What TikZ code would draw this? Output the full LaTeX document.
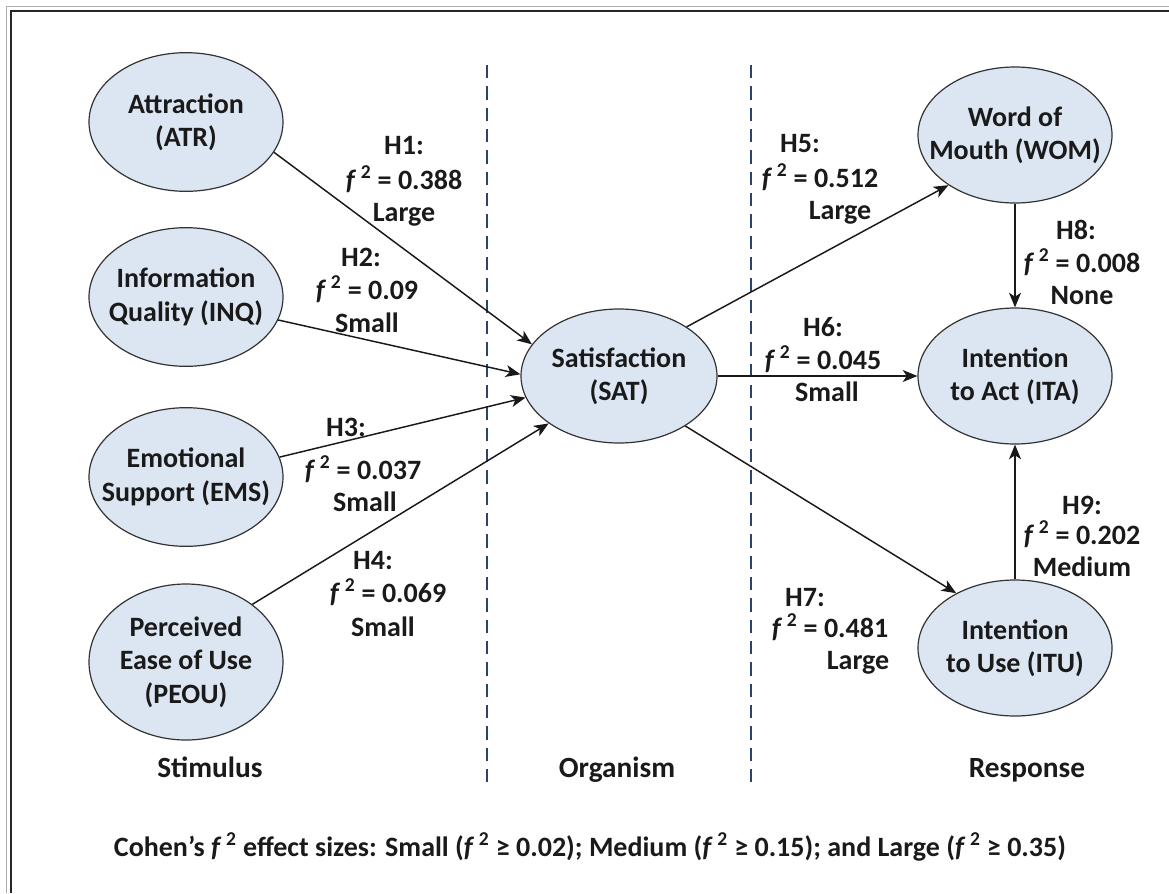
\documentclass[tikz,border=0pt]{standalone}
\usepackage{fontspec}
\setmainfont{Carlito}
\usetikzlibrary{arrows.meta,shapes.geometric}
\definecolor{ellfill}{HTML}{DCE6F2}
\definecolor{dashcol}{HTML}{2B4468}
\definecolor{txtc}{HTML}{1A1A1A}
\newcommand\fsq{\textit{f}\,\textsuperscript{2}}
\begin{document}
\begin{tikzpicture}[x=0.75pt,y=-0.75pt,
  ell/.style={ellipse, draw=black!80, line width=0.9pt, fill=ellfill, inner sep=0pt, minimum width=145.5pt, minimum height=104pt},
  etext/.style={align=center, font=\fontsize{21}{25}\selectfont\bfseries, text=txtc},
  lab/.style={anchor=base, font=\fontsize{21}{25}\selectfont\bfseries, text=txtc, inner sep=0pt},
  head/.style={anchor=base, font=\fontsize{22}{26}\selectfont\bfseries, text=txtc, inner sep=0pt},
  arr/.style={-{Stealth[length=11pt,width=9pt,inset=3pt]}, line width=1.1pt, black!90},
  divider/.style={dashcol, line width=2pt, dash pattern=on 10pt off 6pt},
  ]
\useasboundingbox (0,0) rectangle (1169,893);
% frame
\draw[gray!65, line width=1.2pt] (6.5,893) -- (6.5,6.5) -- (1169,6.5);
\draw[black!85, line width=1.2pt] (11,893) -- (11,11) -- (1169,11);
% dividers
\coordinate (d1t) at (487,65); \coordinate (d1b) at (487,787);
\coordinate (d2t) at (751,65); \coordinate (d2b) at (751,787);
\draw[divider] (d1t) -- (d1b);
\draw[divider] (d2t) -- (d2b);
% ellipses
\node[ell] (atr) at (186,122) {};
\node[ell] (inq) at (186,297) {};
\node[ell] (ems) at (186,477) {};
\node[ell, minimum height=117pt] (peou) at (186,662) {};
\node[ell, minimum width=147pt, minimum height=100.5pt] (sat) at (619,376) {};
\node[ell, minimum height=102pt] (wom) at (1015,135) {};
\node[ell, minimum height=102pt] (ita) at (1015,376) {};
\node[ell, minimum height=102pt] (itu) at (1015,648) {};
\node[etext] (atrT) at (atr) {Attraction\\(ATR)};
\node[etext] (inqT) at (inq) {Information\\Quality (INQ)};
\node[etext] (emsT) at (ems) {Emotional\\Support (EMS)};
\node[etext] (peouT) at (peou) {Perceived\\Ease of Use\\(PEOU)};
\node[etext] (satT) at (sat) {Satisfaction\\(SAT)};
\node[etext] (womT) at (wom) {Word of\\Mouth (WOM)};
\node[etext] (itaT) at (ita) {Intention\\to Act (ITA)};
\node[etext] (ituT) at (itu) {Intention\\to Use (ITU)};
% connectors
\draw[arr] (atr.-19) -- (sat.160);
\draw[arr] (inq.-14) -- (sat.179);
\draw[arr] (ems.12) -- (sat.193);
\draw[arr] (peou.41) -- (sat.214);
\draw[arr] (sat.36) -- (wom.217);
\draw[arr] (sat.east) -- (ita.west);
\draw[arr] (sat.-37) -- (itu.137);
\draw[arr] (wom.south) -- (ita.north);
\draw[arr] (itu.north) -- (ita.south);
% labels
\node[lab] (h1a) at (404,154) {H1:};
\node[lab] (h1b) at (404,189) {\fsq{} = 0.388};
\node[lab] (h1c) at (404,221) {Large};
\node[lab] (h2a) at (361,266) {H2:};
\node[lab] (h2b) at (367,299) {\fsq{} = 0.09};
\node[lab] (h2c) at (367,332) {Small};
\node[lab] (h3a) at (346,436) {H3:};
\node[lab] (h3b) at (363,479) {\fsq{} = 0.037};
\node[lab] (h3c) at (365,511) {Small};
\node[lab] (h4a) at (373,569) {H4:};
\node[lab] (h4b) at (388,602) {\fsq{} = 0.069};
\node[lab] (h4c) at (383,636) {Small};
\node[lab] (h5a) at (800,152) {H5:};
\node[lab] (h5b) at (820,187) {\fsq{} = 0.512};
\node[lab] (h5c) at (840,219) {Large};
\node[lab] (h6a) at (823,336) {H6:};
\node[lab] (h6b) at (823,369) {\fsq{} = 0.045};
\node[lab] (h6c) at (827,401) {Small};
\node[lab] (h7a) at (805,606) {H7:};
\node[lab] (h7b) at (830,637) {\fsq{} = 0.481};
\node[lab] (h7c) at (858,669) {Large};
\node[lab] (h8a) at (1076,239) {H8:};
\node[lab] (h8b) at (1082,272) {\fsq{} = 0.008};
\node[lab] (h8c) at (1082,304) {None};
\node[lab] (h9a) at (1082,514) {H9:};
\node[lab] (h9b) at (1082,544) {\fsq{} = 0.202};
\node[lab] (h9c) at (1082,576) {Medium};
% headings
\node[head] (stim) at (210,777) {Stimulus};
\node[head] (org) at (617,777) {Organism};
\node[head] (resp) at (1027,777) {Response};
% caption
\node[lab] (cap) at (590,856) {Cohen’s \fsq{} effect sizes: Small (\fsq{} ≥ 0.02); Medium (\fsq{} ≥ 0.15); and Large (\fsq{} ≥ 0.35)};
\end{tikzpicture}
\end{document}
